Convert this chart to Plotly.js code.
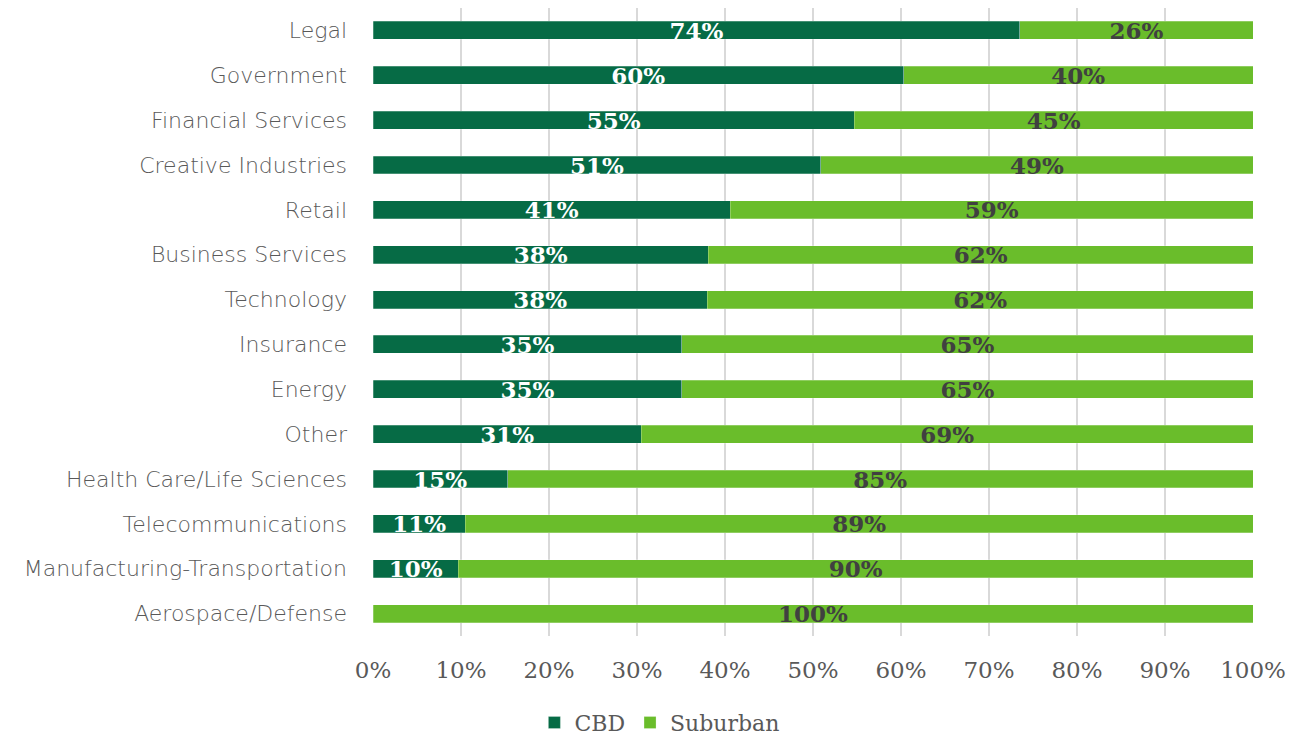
<!DOCTYPE html>
<html>
<head>
<meta charset="utf-8">
<script src="https://cdn.plot.ly/plotly-3.0.1.min.js"></script>
<style>html,body{margin:0;padding:0;background:#fff;}#chart{width:1299px;height:739px;}</style>
</head>
<body>
<div id="chart"></div>
<script>
const categories = ["Legal","Government","Financial Services","Creative Industries","Retail","Business Services","Technology","Insurance","Energy","Other","Health Care/Life Sciences","Telecommunications","Manufacturing-Transportation","Aerospace/Defense"];
const cbdValues = [73.5,60.3,54.7,50.9,40.6,38.1,38.0,35.1,35.1,30.5,15.3,10.5,9.7,0];
const suburbanValues = [26.5,39.7,45.3,49.1,59.4,61.9,62.0,64.9,64.9,69.5,84.7,89.5,90.3,100];
const cbdLabels = ["74%","60%","55%","51%","41%","38%","38%","35%","35%","31%","15%","11%","10%",""];
const suburbanLabels = ["26%","40%","45%","49%","59%","62%","62%","65%","65%","69%","85%","89%","90%","100%"];
const tickVals = [0,10,20,30,40,50,60,70,80,90,100];
const tickText = ["0%","10%","20%","30%","40%","50%","60%","70%","80%","90%","100%"];

const labelFont = {family:"DejaVu Serif", size:23, weight:"bold"};
const traces = [
  {type:"bar", orientation:"h", name:"CBD", y:categories, x:cbdValues, text:cbdLabels,
   textposition:"inside", insidetextanchor:"middle", textangle:0,
   textfont:Object.assign({color:"#ffffff"}, labelFont),
   marker:{color:"#066B45", line:{color:"rgba(255,255,255,0.5)", width:0.5}}, hoverinfo:"x+y"},
  {type:"bar", orientation:"h", name:"Suburban", y:categories, x:suburbanValues, text:suburbanLabels,
   textposition:"inside", insidetextanchor:"middle", textangle:0,
   textfont:Object.assign({color:"#404040"}, labelFont),
   marker:{color:"#6ABD2B", line:{color:"rgba(255,255,255,0.5)", width:0.5}}, hoverinfo:"x+y"}
];
const layout = {
  width:1299, height:739,
  margin:{l:373, r:46, t:8, b:103},
  barmode:"stack", bargap:0.6,
  paper_bgcolor:"#ffffff", plot_bgcolor:"#ffffff",
  uniformtext:{mode:"show", minsize:23},
  xaxis:{range:[0,100], tickvals:tickVals, ticktext:tickText, showgrid:true, gridcolor:"#d9d9d9", gridwidth:2,
         zeroline:false, showline:false, ticks:"", ticklabelstandoff:18,
         tickfont:{family:"DejaVu Serif", size:23, color:"#595959"}},
  yaxis:{autorange:"reversed", showgrid:false, zeroline:false, showline:false, ticks:"", ticklabelstandoff:25,
         tickfont:{family:"DejaVu Sans", size:22, weight:200, color:"#595959"}},
  showlegend:true,
  legend:{orientation:"h", xref:"container", yref:"container", x:0.508, xanchor:"center", y:0.022, yanchor:"middle",
          font:{family:"DejaVu Serif", size:22, color:"#595959"}, itemwidth:30, traceorder:"normal"}
};
Plotly.newPlot("chart", traces, layout, {displayModeBar:false});
</script>
</body>
</html>
